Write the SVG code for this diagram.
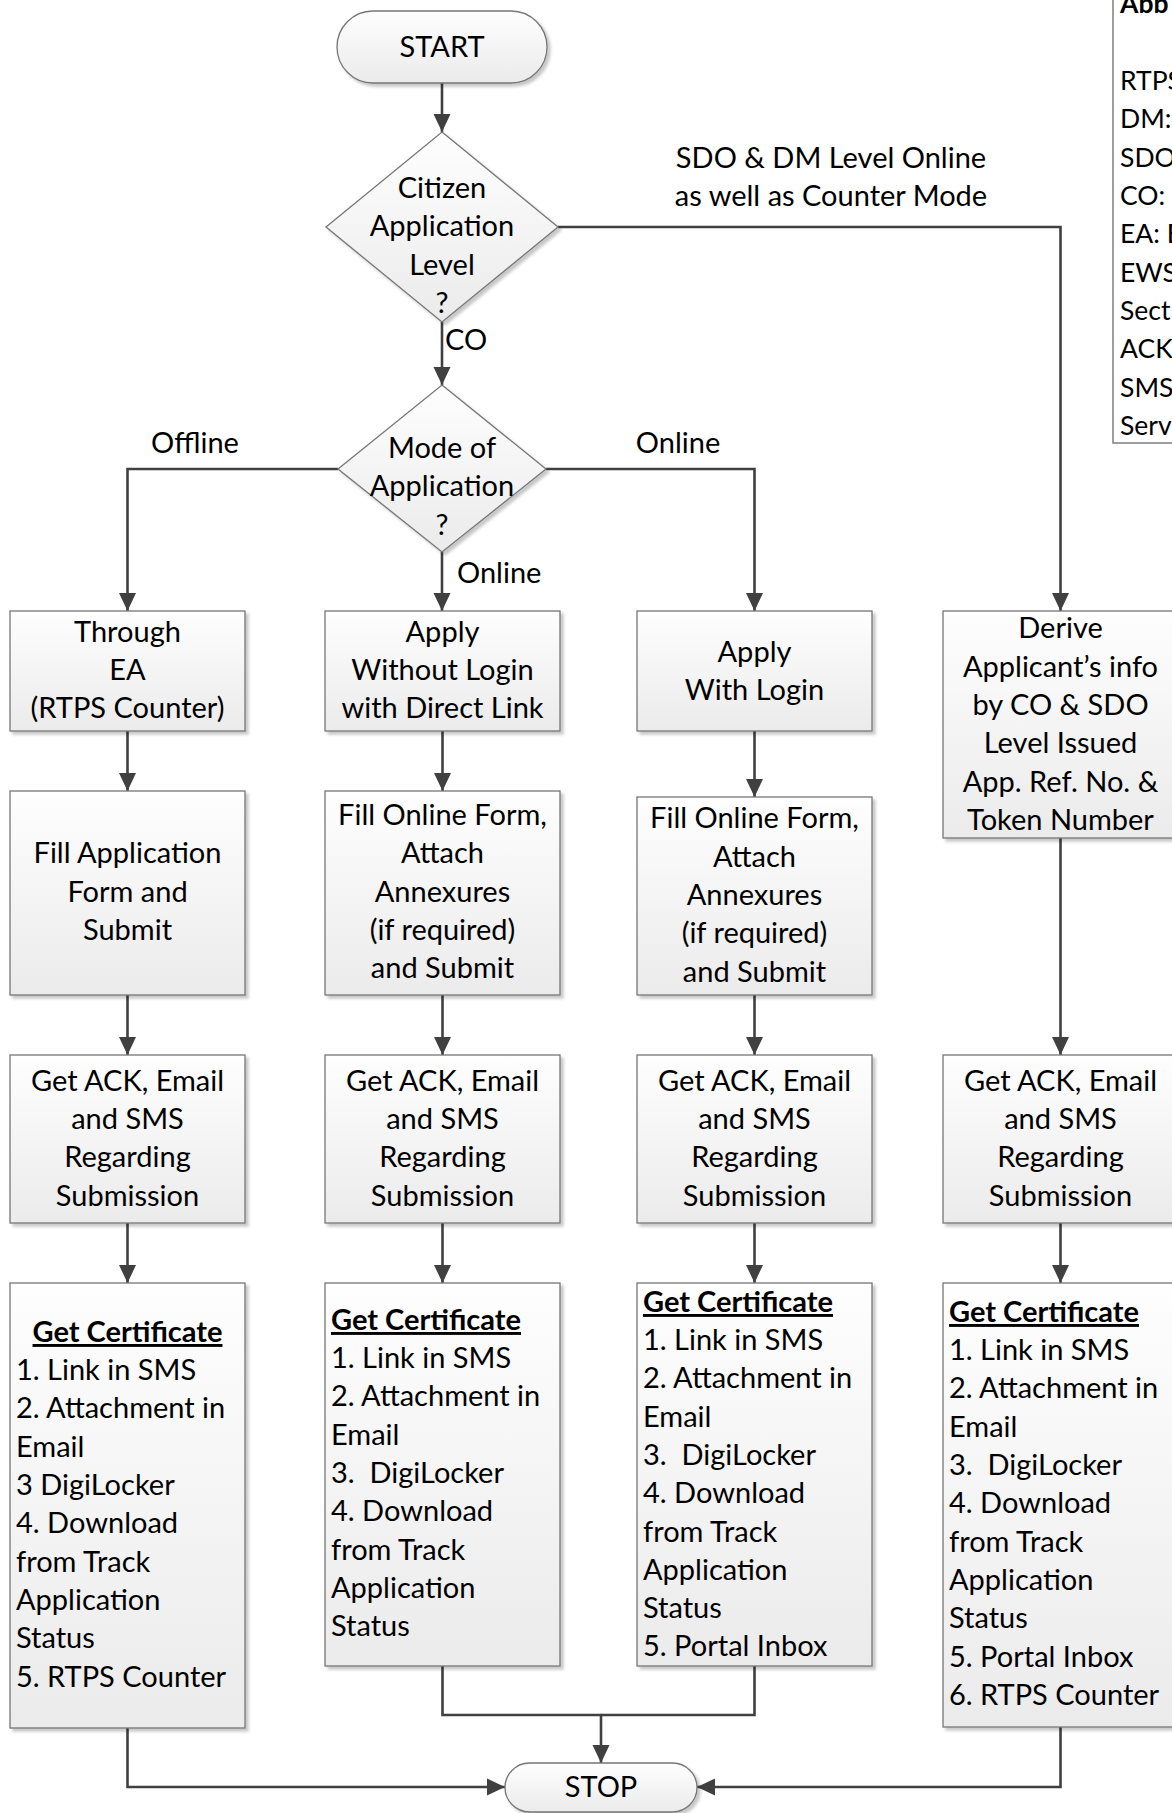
<svg xmlns="http://www.w3.org/2000/svg" width="1172" height="1813" viewBox="0 0 1172 1813">
<style>
.t{font-family:Lato,"Liberation Sans",sans-serif;font-size:29px;fill:#000}
.lg{font-size:26.5px}
.c{text-anchor:middle}
.h{font-weight:bold;text-decoration:underline}
.b{font-weight:bold}
.box{fill:url(#g);stroke:#767676;stroke-width:1.3;filter:url(#sh)}
.ln{fill:none;stroke:#404040;stroke-width:2.6}
.ar{marker-end:url(#ah)}
</style>
<defs>
<linearGradient id="g" x1="0" y1="0" x2="0" y2="1">
<stop offset="0" stop-color="#fefefe"/>
<stop offset="1" stop-color="#ebebeb"/>
</linearGradient>
<filter id="sh" x="-10%" y="-10%" width="130%" height="130%">
<feDropShadow dx="3" dy="3" stdDeviation="1.5" flood-color="#000" flood-opacity="0.22"/>
</filter>
<marker id="ah" markerUnits="userSpaceOnUse" markerWidth="18" markerHeight="18" refX="18" refY="8.5" orient="auto" viewBox="0 0 18 17">
<path d="M0,0 L18,8.5 L0,17 z" fill="#404040"/>
</marker>
</defs>

<g id="legend">
<rect x="1113" y="-5" width="100" height="448" fill="#fff" stroke="#7f7f7f" stroke-width="1.5"/>
<text class="t lg" x="1120"><tspan class="b" y="13">Abb</tspan><tspan x="1120" y="90">RTPS</tspan><tspan x="1120" y="128">DM:</tspan><tspan x="1120" y="167">SDO</tspan><tspan x="1120" y="205">CO:</tspan><tspan x="1120" y="243">EA: E</tspan><tspan x="1120" y="282">EWS</tspan><tspan x="1120" y="320">Sect</tspan><tspan x="1120" y="358">ACK</tspan><tspan x="1120" y="397">SMS</tspan><tspan x="1120" y="435">Serv</tspan></text>
</g>

<g id="connectors">
<path class="ln ar" d="M442,83 V132"/>
<path class="ln ar" d="M442,322 V385"/>
<path class="ln ar" d="M558,227 H1060.5 V611"/>
<path class="ln ar" d="M338,469 H127.5 V611"/>
<path class="ln ar" d="M442,552 V611"/>
<path class="ln ar" d="M546,469 H754.5 V611"/>
<path class="ln ar" d="M127.5,731 V791"/>
<path class="ln ar" d="M442.5,731 V791"/>
<path class="ln ar" d="M754.5,731 V797"/>
<path class="ln ar" d="M1060.5,838 V1055"/>
<path class="ln ar" d="M127.5,995 V1055"/>
<path class="ln ar" d="M442.5,995 V1055"/>
<path class="ln ar" d="M754.5,995 V1055"/>
<path class="ln ar" d="M127.5,1223 V1283"/>
<path class="ln ar" d="M442.5,1223 V1283"/>
<path class="ln ar" d="M754.5,1223 V1283"/>
<path class="ln ar" d="M1060.5,1223 V1283"/>
<path class="ln ar" d="M127.5,1728 V1787 H505"/>
<path class="ln ar" d="M442.5,1666 V1715 H601 V1763"/>
<path class="ln" d="M754.5,1666 V1715 H601"/>
<path class="ln ar" d="M1060.5,1727 V1787 H697"/>
<text class="t c" x="831" y="168">SDO &amp; DM Level Online</text>
<text class="t c" x="831" y="206">as well as Counter Mode</text>
<text class="t" x="445" y="350">CO</text>
<text class="t c" x="195" y="453">Offline</text>
<text class="t c" x="678" y="453">Online</text>
<text class="t" x="457" y="583">Online</text>
</g>

<g id="start">
<rect class="box" x="337" y="11" width="210" height="72" rx="36"/>
<text class="t c" x="442" y="57">START</text>
</g>

<g id="level">
<polygon class="box" points="442,132 558,227 442,322 326,227"/>
<text class="t c"><tspan x="442" y="198">Citizen</tspan><tspan x="442" y="236">Application</tspan><tspan x="442" y="275">Level</tspan><tspan x="442" y="313">?</tspan></text>
</g>

<g id="mode">
<polygon class="box" points="442,385 546,469 442,552 338,469"/>
<text class="t c"><tspan x="442" y="458">Mode of</tspan><tspan x="442" y="496">Application</tspan><tspan x="442" y="535">?</tspan></text>
</g>

<g id="a1">
<rect class="box" x="10" y="611" width="235" height="120"/>
<text class="t c"><tspan x="127.5" y="642">Through</tspan><tspan x="127.5" y="680">EA</tspan><tspan x="127.5" y="718">(RTPS Counter)</tspan></text>
</g>
<g id="b1">
<rect class="box" x="325" y="611" width="235" height="120"/>
<text class="t c"><tspan x="442.5" y="642">Apply</tspan><tspan x="442.5" y="680">Without Login</tspan><tspan x="442.5" y="718">with Direct Link</tspan></text>
</g>
<g id="c1">
<rect class="box" x="637" y="611" width="235" height="120"/>
<text class="t c"><tspan x="754.5" y="662">Apply</tspan><tspan x="754.5" y="700">With Login</tspan></text>
</g>
<g id="d1">
<rect class="box" x="943" y="611" width="235" height="227"/>
<text class="t c"><tspan x="1060.5" y="638">Derive</tspan><tspan x="1060.5" y="677">Applicant’s info</tspan><tspan x="1060.5" y="715">by CO &amp; SDO</tspan><tspan x="1060.5" y="753">Level Issued</tspan><tspan x="1060.5" y="792">App. Ref. No. &amp;</tspan><tspan x="1060.5" y="830">Token Number</tspan></text>
</g>

<g id="a2">
<rect class="box" x="10" y="791" width="235" height="204"/>
<text class="t c"><tspan x="127.5" y="863">Fill Application</tspan><tspan x="127.5" y="902">Form and</tspan><tspan x="127.5" y="940">Submit</tspan></text>
</g>
<g id="b2">
<rect class="box" x="325" y="791" width="235" height="204"/>
<text class="t c"><tspan x="442.5" y="825">Fill Online Form,</tspan><tspan x="442.5" y="863">Attach</tspan><tspan x="442.5" y="902">Annexures</tspan><tspan x="442.5" y="940">(if required)</tspan><tspan x="442.5" y="978">and Submit</tspan></text>
</g>
<g id="c2">
<rect class="box" x="637" y="797" width="235" height="198"/>
<text class="t c"><tspan x="754.5" y="828">Fill Online Form,</tspan><tspan x="754.5" y="867">Attach</tspan><tspan x="754.5" y="905">Annexures</tspan><tspan x="754.5" y="943">(if required)</tspan><tspan x="754.5" y="982">and Submit</tspan></text>
</g>

<g id="a3">
<rect class="box" x="10" y="1055" width="235" height="168"/>
<text class="t c"><tspan x="127.5" y="1091">Get ACK, Email</tspan><tspan x="127.5" y="1129">and SMS</tspan><tspan x="127.5" y="1167">Regarding</tspan><tspan x="127.5" y="1206">Submission</tspan></text>
</g>
<g id="b3">
<rect class="box" x="325" y="1055" width="235" height="168"/>
<text class="t c"><tspan x="442.5" y="1091">Get ACK, Email</tspan><tspan x="442.5" y="1129">and SMS</tspan><tspan x="442.5" y="1167">Regarding</tspan><tspan x="442.5" y="1206">Submission</tspan></text>
</g>
<g id="c3">
<rect class="box" x="637" y="1055" width="235" height="168"/>
<text class="t c"><tspan x="754.5" y="1091">Get ACK, Email</tspan><tspan x="754.5" y="1129">and SMS</tspan><tspan x="754.5" y="1167">Regarding</tspan><tspan x="754.5" y="1206">Submission</tspan></text>
</g>
<g id="d3">
<rect class="box" x="943" y="1055" width="235" height="168"/>
<text class="t c"><tspan x="1060.5" y="1091">Get ACK, Email</tspan><tspan x="1060.5" y="1129">and SMS</tspan><tspan x="1060.5" y="1167">Regarding</tspan><tspan x="1060.5" y="1206">Submission</tspan></text>
</g>

<g id="a4">
<rect class="box" x="10" y="1283" width="235" height="445"/>
<text class="t h c" x="127.5" y="1342">Get Certificate</text>
<text class="t"><tspan x="16" y="1380">1. Link in SMS</tspan><tspan x="16" y="1418">2. Attachment in</tspan><tspan x="16" y="1457">Email</tspan><tspan x="16" y="1495">3 DigiLocker</tspan><tspan x="16" y="1533">4. Download</tspan><tspan x="16" y="1572">from Track</tspan><tspan x="16" y="1610">Application</tspan><tspan x="16" y="1648">Status</tspan><tspan x="16" y="1687">5. RTPS Counter</tspan></text>
</g>
<g id="b4">
<rect class="box" x="325" y="1283" width="235" height="383"/>
<text class="t h" x="331" y="1330">Get Certificate</text>
<text class="t" xml:space="preserve"><tspan x="331" y="1368">1. Link in SMS</tspan><tspan x="331" y="1406">2. Attachment in</tspan><tspan x="331" y="1445">Email</tspan><tspan x="331" y="1483">3.  DigiLocker</tspan><tspan x="331" y="1521">4. Download</tspan><tspan x="331" y="1560">from Track</tspan><tspan x="331" y="1598">Application</tspan><tspan x="331" y="1636">Status</tspan></text>
</g>
<g id="c4">
<rect class="box" x="637" y="1283" width="235" height="383"/>
<text class="t h" x="643" y="1312">Get Certificate</text>
<text class="t" xml:space="preserve"><tspan x="643" y="1350">1. Link in SMS</tspan><tspan x="643" y="1388">2. Attachment in</tspan><tspan x="643" y="1427">Email</tspan><tspan x="643" y="1465">3.  DigiLocker</tspan><tspan x="643" y="1503">4. Download</tspan><tspan x="643" y="1542">from Track</tspan><tspan x="643" y="1580">Application</tspan><tspan x="643" y="1618">Status</tspan><tspan x="643" y="1656">5. Portal Inbox</tspan></text>
</g>
<g id="d4">
<rect class="box" x="943" y="1283" width="235" height="444"/>
<text class="t h" x="949" y="1322">Get Certificate</text>
<text class="t" xml:space="preserve"><tspan x="949" y="1360">1. Link in SMS</tspan><tspan x="949" y="1398">2. Attachment in</tspan><tspan x="949" y="1437">Email</tspan><tspan x="949" y="1475">3.  DigiLocker</tspan><tspan x="949" y="1513">4. Download</tspan><tspan x="949" y="1552">from Track</tspan><tspan x="949" y="1590">Application</tspan><tspan x="949" y="1628">Status</tspan><tspan x="949" y="1667">5. Portal Inbox</tspan><tspan x="949" y="1705">6. RTPS Counter</tspan></text>
</g>

<g id="stop">
<rect class="box" x="505" y="1763" width="192" height="49" rx="24.5"/>
<text class="t c" x="601" y="1797">STOP</text>
</g>
</svg>
